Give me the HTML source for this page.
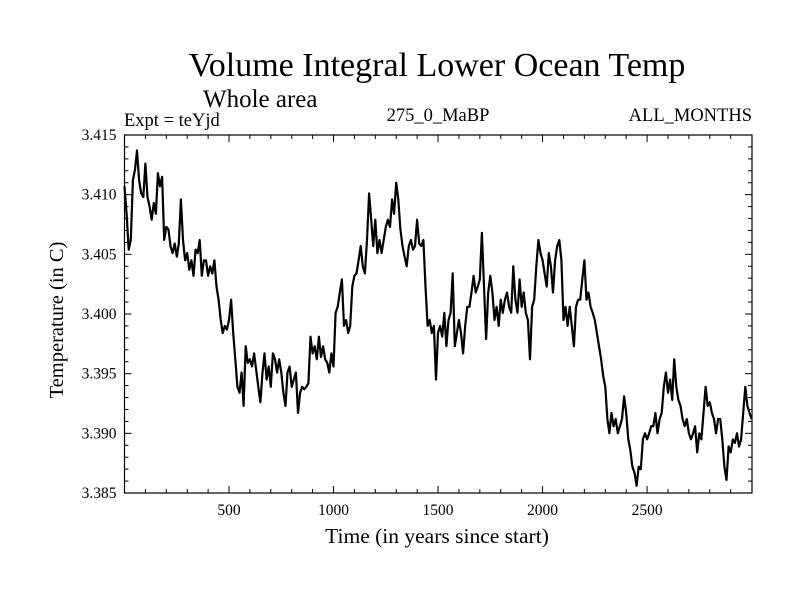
<!DOCTYPE html>
<html><head><meta charset="utf-8"><style>
html,body{margin:0;padding:0;background:#fff;}
svg{display:block;font-family:"Liberation Serif",serif;}
</style></head><body>
<svg id="chart" width="800" height="600" viewBox="0 0 800 600">
<text x="437" y="76" font-size="34" text-anchor="middle">Volume Integral Lower Ocean Temp</text>
<text x="203" y="107" font-size="25">Whole area</text>
<text x="124" y="126" font-size="18.5">Expt = teYjd</text>
<text x="438" y="121" font-size="18.5" text-anchor="middle">275_0_MaBP</text>
<text x="752" y="121" font-size="18.5" text-anchor="end">ALL_MONTHS</text>
<text x="437" y="543" font-size="21.5" text-anchor="middle">Time (in years since start)</text>
<text transform="translate(63,320) rotate(-90)" font-size="20.5" text-anchor="middle">Temperature (in C)</text>
<g id="ticks"></g>
<g id="series"></g>
<rect x="124.5" y="135" width="627.5" height="358" fill="none" stroke="#000" stroke-width="1.2"/>
</svg>
<script>
const xTicks = [500, 1000, 1500, 2000, 2500];
const yTicks = [3.385, 3.390, 3.395, 3.400, 3.405, 3.410, 3.415];
const yTickLabels = ["3.385", "3.390", "3.395", "3.400", "3.405", "3.410", "3.415"];
const yearStep = 10;
const temps = [
3.4107,3.4084,3.4054,3.4062,3.4112,3.4121,3.4137,3.4112,3.4101,3.4098,
3.4126,3.4098,3.4090,3.4079,3.4093,3.4084,3.4118,3.4107,3.4115,3.4062,
3.4073,3.4071,3.4057,3.4051,3.4059,3.4048,3.4059,3.4096,3.4062,3.4045,
3.4051,3.4037,3.4045,3.4032,3.4054,3.4051,3.4062,3.4032,3.4045,3.4045,
3.4032,3.4040,3.4034,3.4045,3.4023,3.4012,3.3995,3.3984,3.3990,3.3987,
3.3995,3.4012,3.3984,3.3962,3.3939,3.3934,3.3951,3.3923,3.3973,3.3959,
3.3962,3.3956,3.3967,3.3953,3.3939,3.3926,3.3951,3.3967,3.3945,3.3956,
3.3939,3.3967,3.3962,3.3951,3.3962,3.3951,3.3934,3.3923,3.3951,3.3956,
3.3939,3.3945,3.3951,3.3917,3.3934,3.3939,3.3937,3.3939,3.3942,3.3981,
3.3967,3.3973,3.3962,3.3981,3.3964,3.3973,
3.3962,3.3959,3.3951,3.3967,3.3956,3.4001,3.4006,3.4018,3.4029,3.3990,
3.3995,3.3984,3.3990,3.4023,3.4032,3.4034,3.4045,3.4057,3.4040,3.4034,
3.4062,3.4101,3.4079,3.4057,3.4079,3.4051,3.4062,3.4051,3.4062,3.4073,
3.4079,3.4073,3.4096,3.4084,3.4110,3.4096,3.4071,3.4057,3.4048,3.4040,
3.4057,3.4062,3.4054,3.4057,3.4079,3.4059,3.4057,3.4062,3.4023,3.3990,
3.3995,3.3984,3.3990,3.3945,3.3984,3.3990,3.3981,3.4001,3.3973,3.3995,
3.4001,3.4034,3.3973,3.3984,3.3995,3.3984,3.3967,3.3990,3.4006,3.4006,
3.4018,3.4032,3.4018,3.4023,3.4029,3.4068,3.4023,3.3979,3.4018,3.4032,
3.4018,3.3995,3.4006,3.3990,3.4012,3.4001,3.4012,3.4018,3.4006,3.4001,
3.4040,3.4012,3.4001,3.4029,3.4006,3.4018,3.4001,3.3995,3.3962,3.4006,
3.4012,3.4040,3.4062,3.4051,
3.4045,3.4034,3.4023,3.4051,3.4040,3.4018,3.4045,3.4057,3.4062,3.4045,
3.3995,3.4006,3.3990,3.4006,3.3990,3.3973,3.4006,3.4012,3.4012,3.4029,
3.4045,3.4012,3.4018,3.4006,3.4001,3.3995,3.3984,3.3973,3.3962,3.3948,
3.3939,3.3912,3.3900,3.3917,3.3906,3.3912,3.3900,3.3906,3.3912,3.3931,
3.3917,3.3895,3.3886,3.3872,3.3867,3.3856,3.3872,3.3870,3.3895,3.3900,
3.3895,3.3900,3.3906,3.3906,3.3917,3.3900,3.3912,3.3917,3.3939,3.3951,
3.3934,3.3945,3.3928,3.3962,3.3939,3.3928,3.3923,3.3912,3.3906,3.3912,
3.3900,3.3895,3.3900,3.3906,3.3884,3.3900,3.3895,3.3917,3.3939,3.3923,
3.3926,3.3917,3.3912,3.3900,3.3912,3.3912,3.3895,3.3872,3.3861,3.3889,
3.3884,3.3895,3.3892,3.3900,3.3889,3.3895,3.3917,3.3939,3.3923,3.3917,
3.3912
];
const L=124.5,R=752,T=135,B=493,X0=0,X1=3002,Y0=3.385,Y1=3.415;
const xs=v=>L+(v-X0)/(X1-X0)*(R-L);
const ys=v=>B-(v-Y0)/(Y1-Y0)*(B-T);
const NS="http://www.w3.org/2000/svg";
const tg=document.getElementById('ticks');
function line(x1,y1,x2,y2,name){
  const l=document.createElementNS(NS,'line');
  l.setAttribute('x1',x1);l.setAttribute('y1',y1);l.setAttribute('x2',x2);l.setAttribute('y2',y2);
  l.setAttribute('stroke','#000');l.setAttribute('stroke-width','1');
  
  
  tg.appendChild(l);
}
function text(x,y,s,anchor,name){
  const t=document.createElementNS(NS,'text');
  t.setAttribute('x',x);t.setAttribute('y',y);t.setAttribute('font-size','15.5');t.setAttribute('text-anchor',anchor);
  t.textContent=s;
  
  
  tg.appendChild(t);
}
for(let v=100;v<3000;v+=100){
  const x=xs(v), major=v%500===0, len=major?7:4;
  line(x,B,x,B-len,'x-tick');
  line(x,T,x,T+len,'x-tick-top');
}
xTicks.forEach(v=>text(xs(v),B+22,String(v),'middle','x-tick-label'));
for(let i=0;i<=30;i++){
  const v=Y0+i*0.001, y=ys(v), major=i%5===0, len=major?7:4;
  line(L,y,L+len,y,'y-tick');
  line(R,y,R-len,y,'y-tick-right');
}
yTicks.forEach((v,i)=>text(L-8,ys(v)+5,yTickLabels[i],'end','y-tick-label'));
let d='';
temps.forEach((v,i)=>{d+=(i?'L':'M')+xs(i*yearStep).toFixed(1)+','+ys(v).toFixed(1);});
const p=document.createElementNS(NS,'path');
p.setAttribute('d',d);p.setAttribute('fill','none');p.setAttribute('stroke','#000');p.setAttribute('stroke-width','2.2');p.setAttribute('stroke-linejoin','round');


document.getElementById('series').appendChild(p);
</script>
</body></html>
